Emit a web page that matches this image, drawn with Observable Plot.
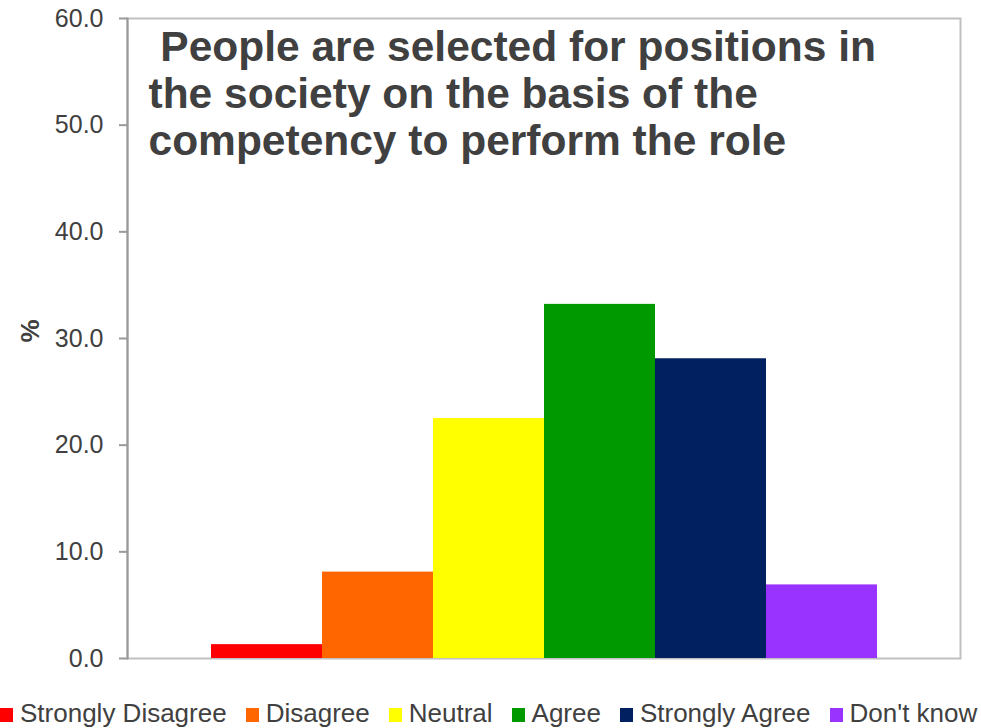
<!DOCTYPE html>
<html>
<head>
<meta charset="utf-8">
<script src="https://cdn.jsdelivr.net/npm/d3@7"></script>
<script src="https://cdn.jsdelivr.net/npm/@observablehq/plot@0.6"></script>
<style>
  html, body { margin: 0; padding: 0; background: #fff; }
  body { width: 981px; height: 728px; overflow: hidden; font-family: "Liberation Sans", Arial, sans-serif; }
  #legend { display: flex; align-items: flex-end; justify-content: flex-start; padding-left: 0; white-space: nowrap;
            font-size: 26px; line-height: 30px; color: #404040; }
  #legend .item { display: flex; align-items: center; margin-right: 19px; }
  #legend .sw { width: 13px; height: 14px; margin-right: 7px; margin-top: 4px; }
</style>
</head>
<body>
<div id="chart"></div>
<div id="legend"></div>
<script>
const categories = ["Strongly Disagree", "Disagree", "Neutral", "Agree", "Strongly Agree", "Don't know"];
const values = [1.3, 8.1, 22.5, 33.2, 28.1, 6.9];
const colors = ["#FF0000", "#FF6600", "#FFFF00", "#009900", "#002060", "#9933FF"];
const yTicks = [0, 10, 20, 30, 40, 50, 60];
const titleLines = ["\u00A0People are selected for positions in", "the society on the basis of the", "competency to perform the role"];
const yLabel = "%";

const data = categories.map((c, i) => ({cat: c, value: values[i]}));
const font = "'Liberation Sans', Arial, sans-serif";

const chart = Plot.plot({
  width: 981,
  height: 698,
  marginLeft: 127,
  marginRight: 21,
  marginTop: 18,
  marginBottom: 40,
  style: {fontFamily: font, color: "#404040", background: "#fff", overflow: "visible"},
  x: {domain: categories, paddingInner: 0, paddingOuter: 0.75, axis: null},
  y: {domain: [0, 60], ticks: yTicks},
  color: {domain: categories, range: colors},
  marks: [
    Plot.frame({stroke: "#c0c0c0", strokeWidth: 2}),
    Plot.barY(data, {x: "cat", y: "value", fill: "cat"}),
    Plot.frame({anchor: "left", stroke: "#999999", strokeWidth: 2}),
    Plot.axisY({ticks: yTicks, tickSize: 8, tickPadding: 16, fontSize: 25, stroke: "#999999", strokeWidth: 2,
                tickFormat: d => d.toFixed(1), label: null, fill: "#404040"}),
    Plot.text([yLabel], {frameAnchor: "left", dx: -97, dy: 4, rotate: -90, fontSize: 26, fontWeight: "bold", fill: "#404040"}),
    Plot.text([titleLines.join("\n")], {frameAnchor: "top-left", textAnchor: "start", lineAnchor: "top",
                dx: 21, dy: 9, fontSize: 42.5, fontWeight: "bold", lineHeight: 1.11, fill: "#404040"})
  ]
});
document.getElementById("chart").appendChild(chart);

const legend = d3.select("#legend");
categories.forEach((c, i) => {
  const item = legend.append("div").attr("class", "item");
  item.append("div").attr("class", "sw").style("background", colors[i]);
  item.append("span").text(c);
});
</script>
</body>
</html>
